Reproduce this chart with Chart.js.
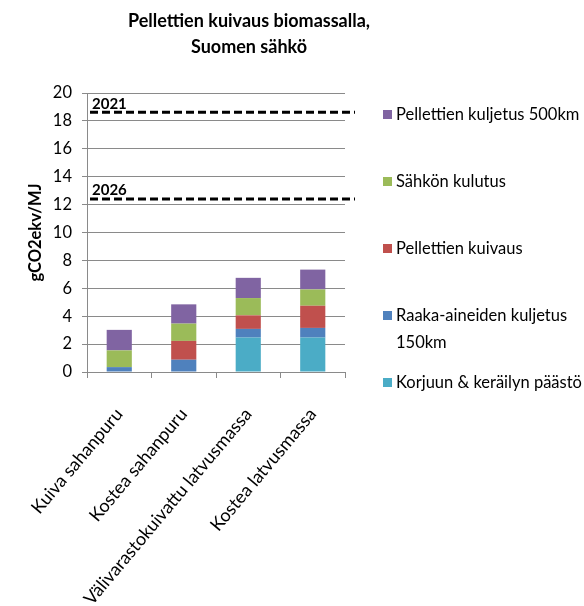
<!DOCTYPE html>
<html>
<head>
<meta charset="utf-8">
<script src="https://cdn.jsdelivr.net/npm/chart.js@4/dist/chart.umd.min.js"></script>
<style>
  body { margin: 0; background: #fff; }
  #wrap { width: 584px; height: 606px; }
</style>
</head>
<body>
<div id="wrap"><canvas id="chart" width="584" height="606"></canvas></div>
<script>
// Data
const categories = ["Kuiva sahanpuru", "Kostea sahanpuru", "Välivarastokuivattu latvusmassa", "Kostea latvusmassa"];
const korjuu = [0, 0, 2.47, 2.47];
const raakaKuljetus = [0.35, 0.88, 0.62, 0.69];
const kuivaus = [0, 1.35, 0.97, 1.59];
const sahkonKulutus = [1.2, 1.24, 1.24, 1.17];
const pelletKuljetus = [1.47, 1.38, 1.45, 1.42];

const seriesLabels = ["Korjuun & keräilyn päästö", "Raaka-aineiden kuljetus 150km", "Pellettien kuivaus", "Sähkön kulutus", "Pellettien kuljetus 500km"];
const seriesColors = ["#4BACC6", "#4F81BD", "#C0504D", "#9BBB59", "#8064A2"];

const limitYears = ["2021", "2026"];
const limitValues = [18.62, 12.4];

const titleLines = ["Pellettien kuivaus biomassalla,", "Suomen sähkö"];
const yTitle = "gCO2ekv/MJ";

const FONT = "Lato, 'Open Sans', sans-serif";

// Title drawn above the plot
const titlePlugin = {
    id: "titleText",
    afterDraw(chart) {
        const ctx = chart.ctx;
        ctx.save();
        ctx.fillStyle = "#000";
        ctx.font = "bold 18px " + FONT;
        ctx.textAlign = "center";
        ctx.textBaseline = "middle";
        titleLines.forEach((t, i) => ctx.fillText(t, 249, 21 + i * 26));
        ctx.restore();
    }
};

// Dashed limit lines with year labels
const limitPlugin = {
    id: "limits",
    afterDatasetsDraw(chart) {
        const ctx = chart.ctx;
        const area = chart.chartArea;
        const y = chart.scales.y;
        ctx.save();
        limitValues.forEach((v, i) => {
            const py = y.getPixelForValue(v);
            ctx.strokeStyle = "#000";
            ctx.lineWidth = 3;
            ctx.setLineDash([8, 4]);
            ctx.beginPath();
            ctx.moveTo(area.left + 3, py);
            ctx.lineTo(area.right + 10, py);
            ctx.stroke();
            ctx.setLineDash([]);
            ctx.fillStyle = "#000";
            ctx.font = "bold 15px " + FONT;
            ctx.textAlign = "left";
            ctx.textBaseline = "bottom";
            ctx.fillText(limitYears[i], area.left + 5, py - 1);
        });
        ctx.restore();
    }
};

// Legend on the right, top series first
const legendPlugin = {
    id: "sideLegend",
    afterDraw(chart) {
        const ctx = chart.ctx;
        ctx.save();
        ctx.font = "16.5px " + FONT;
        ctx.textBaseline = "middle";
        ctx.textAlign = "left";
        const x = 383;
        const maxW = 192;
        const sets = chart.data.datasets.slice().reverse();
        sets.forEach((ds, i) => {
            const y = 115 + i * 67;
            ctx.fillStyle = ds.backgroundColor;
            ctx.fillRect(x, y - 5, 9, 9);
            // simple word wrap
            const words = ds.label.split(" ");
            const lines = [];
            let cur = "";
            words.forEach(w => {
                const test = cur ? cur + " " + w : w;
                if (ctx.measureText(test).width > maxW && cur) {
                    lines.push(cur);
                    cur = w;
                } else {
                    cur = test;
                }
            });
            lines.push(cur);
            ctx.fillStyle = "#000";
            lines.forEach((l, j) => ctx.fillText(l, x + 13, y + j * 27));
        });
        ctx.restore();
    }
};

const seriesData = [korjuu, raakaKuljetus, kuivaus, sahkonKulutus, pelletKuljetus];

new Chart(document.getElementById("chart"), {
    type: "bar",
    data: {
        labels: categories,
        datasets: seriesData.map((d, i) => ({
            label: seriesLabels[i],
            data: d,
            backgroundColor: seriesColors[i],
            borderWidth: 0,
            barPercentage: 0.39,
            categoryPercentage: 1
        }))
    },
    options: {
        responsive: false,
        animation: false,
        devicePixelRatio: 1,
        layout: { padding: { top: 93, right: 239, left: 22, bottom: 0 } },
        plugins: {
            legend: { display: false },
            title: { display: false },
            tooltip: { enabled: false }
        },
        scales: {
            x: {
                stacked: true,
                afterFit(scale) { scale.paddingLeft = 0; scale.height = 234; },
                grid: { drawOnChartArea: false, tickLength: 6, color: "#8a8a8a", offset: true },
                border: { color: "#8a8a8a" },
                ticks: { minRotation: 50, maxRotation: 50, padding: 26, color: "#000", font: { family: FONT, size: 18 } }
            },
            y: {
                stacked: true,
                min: 0,
                max: 20,
                afterFit(scale) { scale.width = 65; },
                ticks: { stepSize: 2, color: "#000", font: { family: FONT, size: 16.5 }, padding: 10 },
                grid: { color: "#8a8a8a", tickLength: 5 },
                border: { color: "#8a8a8a" },
                title: { display: true, text: yTitle, color: "#000", padding: 4, font: { family: FONT, size: 16.5, weight: "bold" } }
            }
        }
    },
    plugins: [titlePlugin, limitPlugin, legendPlugin]
});
</script>
</body>
</html>
